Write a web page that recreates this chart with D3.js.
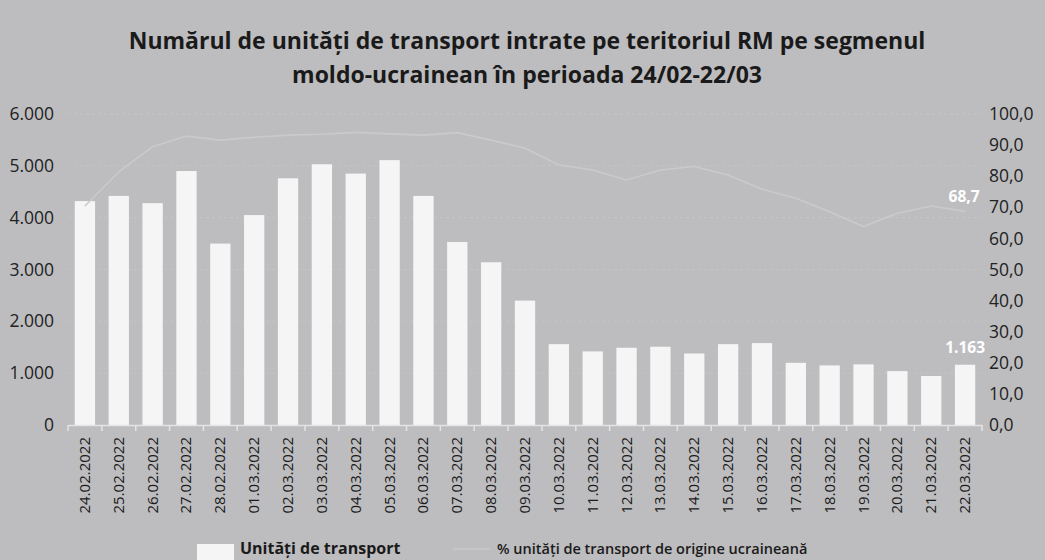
<!DOCTYPE html>
<html>
<head>
<meta charset="utf-8">
<script src="https://cdn.jsdelivr.net/npm/d3@7"></script>
<style>
  html, body { margin: 0; padding: 0; background: #bdbdbf; }
  svg { display: block; font-family: "Open Sans", "Noto Sans", sans-serif; }
</style>
</head>
<body>
<svg id="chart"></svg>
<script>
"use strict";

var dates = ['24.02.2022', '25.02.2022', '26.02.2022', '27.02.2022', '28.02.2022',
    '01.03.2022', '02.03.2022', '03.03.2022', '04.03.2022', '05.03.2022', '06.03.2022',
    '07.03.2022', '08.03.2022', '09.03.2022', '10.03.2022', '11.03.2022', '12.03.2022',
    '13.03.2022', '14.03.2022', '15.03.2022', '16.03.2022', '17.03.2022', '18.03.2022',
    '19.03.2022', '20.03.2022', '21.03.2022', '22.03.2022'];

// unitati de transport (bars, left axis)
var units = [4320, 4420, 4280, 4900, 3500, 4050, 4760, 5030, 4850, 5110, 4420,
    3530, 3140, 2400, 1560, 1420, 1490, 1510, 1380, 1560, 1580,
    1200, 1150, 1170, 1040, 945, 1163];

// % de origine ucraineana (line, right axis)
var share = [70.4, 81.4, 89.5, 92.9, 91.6, 92.5, 93.2, 93.5, 94.1, 93.6, 93.2,
    94.0, 91.6, 89.0, 83.6, 82.0, 78.8, 82.0, 83.1, 80.4, 75.8,
    72.9, 68.6, 63.8, 68.1, 70.4, 68.7];

var leftTicks = [0, 1000, 2000, 3000, 4000, 5000, 6000];
var rightTicks = [0, 10, 20, 30, 40, 50, 60, 70, 80, 90, 100];

var titleLines = ['Numărul de unități de transport intrate pe teritoriul RM pe segmenul',
    'moldo-ucrainean în perioada 24/02-22/03'];
var legendItems = ['Unități de transport', '% unități de transport de origine ucraineană'];

var width = 1045, height = 560;
var svg = d3.select('#chart').attr('width', width).attr('height', height);

svg.append('rect').attr('width', width).attr('height', height).attr('fill', '#bdbdbf');

var x = d3.scaleBand().domain(dates).range([68, 982]).paddingInner(0.4).paddingOuter(0.2);
var yL = d3.scaleLinear().domain([0, 6000]).range([425, 114]);
var yR = d3.scaleLinear().domain([0, 100]).range([425, 114]);

var fmtL = function(d) { return d3.format(',')(d).replace(/,/g, '.'); };
var fmtR = function(d) { return d3.format('.1f')(d).replace('.', ','); };

// title
svg.append('g').selectAll('text')
    .data(titleLines)
    .enter().append('text')
    .attr('x', 527)
    .attr('y', (d, i) => 49 + i * 34)
    .attr('text-anchor', 'middle')
    .attr('font-size', 23)
    .attr('font-weight', 'bold')
    .attr('fill', '#1a1a1a')
    .text(d => d);

// gridlines
svg.append('g').selectAll('line')
    .data(leftTicks.slice(1))
    .enter().append('line')
    .attr('x1', 68).attr('x2', 982)
    .attr('y1', d => yL(d)).attr('y2', d => yL(d))
    .attr('stroke', '#c5c5c7')
    .attr('stroke-width', 1)
    .attr('stroke-dasharray', '3,3');

// bars
svg.append('g').selectAll('rect')
    .data(units)
    .enter().append('rect')
    .attr('x', (d, i) => x(dates[i]))
    .attr('y', d => yL(d))
    .attr('width', x.bandwidth())
    .attr('height', d => yL(0) - yL(d))
    .attr('fill', '#f5f5f5');

// line
var line = d3.line()
    .x((d, i) => x(dates[i]) + x.bandwidth() / 2)
    .y(d => yR(d));

svg.append('path')
    .datum(share)
    .attr('d', line)
    .attr('fill', 'none')
    .attr('stroke', '#cacacc')
    .attr('stroke-width', 1.6);

// x axis
var xAxis = svg.append('g')
    .attr('transform', 'translate(0,' + yL(0) + ')')
    .call(d3.axisBottom(x).tickSize(0).tickPadding(0).tickFormat(''));
xAxis.select('.domain').attr('stroke', '#e4e4e4').attr('stroke-width', 1.5);

var bounds = d3.range(dates.length + 1).map(i => 68 + i * x.step());
xAxis.selectAll('.sep')
    .data(bounds)
    .enter().append('line')
    .attr('class', 'sep')
    .attr('x1', d => d).attr('x2', d => d)
    .attr('y1', 0).attr('y2', 6)
    .attr('stroke', '#e4e4e4')
    .attr('stroke-width', 1.5);

svg.append('g').selectAll('text')
    .data(dates)
    .enter().append('text')
    .attr('transform', d => 'translate(' + (x(d) + x.bandwidth() / 2 + 5) + ',437) rotate(-90)')
    .attr('text-anchor', 'end')
    .attr('font-size', 15)
    .attr('fill', '#1a1a1a')
    .text(d => d);

// left axis
var leftAxis = svg.append('g')
    .attr('transform', 'translate(54,0)')
    .call(d3.axisLeft(yL).tickValues(leftTicks).tickSize(0).tickPadding(0).tickFormat(fmtL));
leftAxis.select('.domain').remove();
leftAxis.selectAll('text')
    .attr('font-family', '"Open Sans", sans-serif')
    .attr('font-size', 17.5)
    .attr('fill', '#222');

// right axis
var rightAxis = svg.append('g')
    .attr('transform', 'translate(989,0)')
    .call(d3.axisRight(yR).tickValues(rightTicks).tickSize(0).tickPadding(0).tickFormat(fmtR));
rightAxis.select('.domain').remove();
rightAxis.selectAll('text')
    .attr('font-family', '"Open Sans", sans-serif')
    .attr('font-size', 17.5)
    .attr('fill', '#222');

// data labels for the last point
var last = dates.length - 1;
svg.append('text')
    .attr('x', x(dates[last]) + x.bandwidth() / 2)
    .attr('y', yL(units[last]) - 12)
    .attr('text-anchor', 'middle')
    .attr('font-size', 15.5)
    .attr('font-weight', 'bold')
    .attr('fill', '#ffffff')
    .text(fmtL(units[last]));

svg.append('text')
    .attr('x', x(dates[last]) + x.bandwidth() / 2 - 1)
    .attr('y', yR(share[last]) - 9)
    .attr('text-anchor', 'middle')
    .attr('font-size', 15.5)
    .attr('font-weight', 'bold')
    .attr('fill', '#ffffff')
    .text(fmtR(share[last]));

// legend
var legend = svg.append('g');
legend.append('rect')
    .attr('x', 197).attr('y', 544)
    .attr('width', 37).attr('height', 16)
    .attr('fill', '#f5f5f5');
legend.append('text')
    .attr('x', 240).attr('y', 554)
    .attr('font-size', 16)
    .attr('font-weight', 'bold')
    .attr('fill', '#1a1a1a')
    .text(legendItems[0]);
legend.append('line')
    .attr('x1', 453).attr('x2', 490)
    .attr('y1', 549).attr('y2', 549)
    .attr('stroke', '#cacacc')
    .attr('stroke-width', 1.6);
legend.append('text')
    .attr('x', 497).attr('y', 554)
    .attr('font-size', 14.5)
    .attr('font-weight', 600)
    .attr('fill', '#1a1a1a')
    .text(legendItems[1]);
</script>
</body>
</html>
